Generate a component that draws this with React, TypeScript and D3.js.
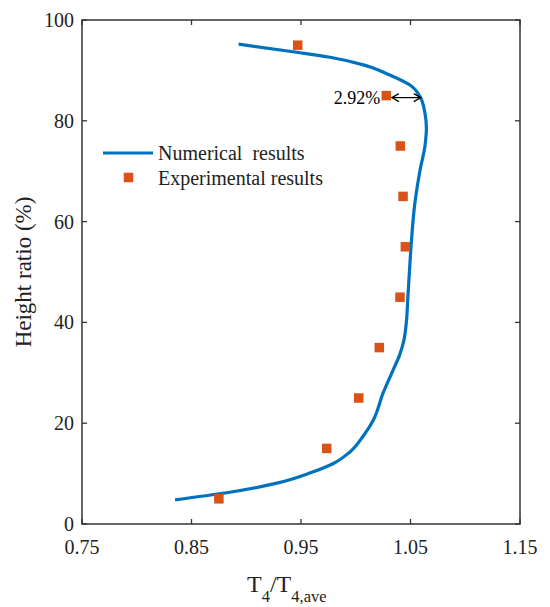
import * as d3 from 'd3'

// numerical curve: [T4/T4,ave, height ratio %] bottom to top
const numericalX = [0.835, 0.882, 0.928, 0.958, 0.9795, 0.9947, 1.007, 1.016, 1.025, 1.034, 1.04, 1.044, 1.0462, 1.0476, 1.049, 1.0508, 1.054, 1.0587, 1.0632, 1.0645, 1.0632, 1.0587, 1.0495, 1.031, 1.007, 0.9765, 0.946, 0.893]
const numericalY = [4.8, 6.2, 8.1, 10.1, 12.0, 14.3, 17.5, 20.6, 26, 30.5, 33.5, 36.5, 40, 45, 50, 56, 63.7, 70.2, 75, 78.5, 81.5, 84.8, 87.1, 89.1, 91.1, 92.6, 93.6, 95.2]

const expHeights = [5, 15, 25, 35, 45, 55, 65, 75, 85, 95]
const expValues = [0.875, 0.9735, 1.0027, 1.0215, 1.0404, 1.0453, 1.0432, 1.0407, 1.0279, 0.947]

const xTicks = [0.75, 0.85, 0.95, 1.05, 1.15]
const yTicks = [0, 20, 40, 60, 80, 100]

// annotation arrow between marker and curve
const arrowFrom = 1.033
const arrowTo = 1.0594
const arrowHeight = 84.6
const arrowLabel = '2.92%'

const FONT = '"Liberation Serif", "Times New Roman", serif'
const BLUE = '#0072BD'
const ORANGE = '#D95319'
const AXIS = '#333333'

export default function App() {
  const width = 550
  const height = 607
  const margin = { top: 20, right: 30, bottom: 83, left: 82 }
  const w = width - margin.left - margin.right
  const h = height - margin.top - margin.bottom

  const x = d3.scaleLinear().domain([0.75, 1.15]).range([0, w])
  const y = d3.scaleLinear().domain([0, 100]).range([h, 0])

  const pts = numericalX.map((v, i) => ({ t: v, hr: numericalY[i] }))
  // x is a function of height here, so interpolate monotone along y
  const line = d3
    .line<{ t: number; hr: number }>()
    .x((d) => x(d.t))
    .y((d) => y(d.hr))
    .curve(d3.curveMonotoneY)

  const tickLen = 5
  const ms = 9.5

  const ax1 = x(arrowFrom)
  const ax2 = x(arrowTo)
  const ay = y(arrowHeight)
  const head = 5

  return (
    <svg
      width={width}
      height={height}
      style={{ position: 'absolute', left: 0, top: 0, background: '#fff' }}
      fontFamily={FONT}
    >
      <g transform={`translate(${margin.left},${margin.top})`}>
        {/* curve */}
        <path d={line(pts) || ''} fill="none" stroke={BLUE} strokeWidth={3.2} strokeLinejoin="round" />

        {/* experimental markers */}
        {expHeights.map((hr, i) => (
          <rect
            key={hr}
            x={x(expValues[i]) - ms / 2}
            y={y(hr) - ms / 2}
            width={ms}
            height={ms}
            fill={ORANGE}
          />
        ))}

        {/* annotation */}
        <g stroke="#000" strokeWidth={1.2} fill="none">
          <line x1={ax1} x2={ax2} y1={ay} y2={ay} />
          <path d={`M${ax1 + head * 1.4},${ay - head * 0.8} L${ax1},${ay} L${ax1 + head * 1.4},${ay + head * 0.8}`} />
          <path d={`M${ax2 - head * 1.4},${ay - head * 0.8} L${ax2},${ay} L${ax2 - head * 1.4},${ay + head * 0.8}`} />
        </g>
        <text x={x(expValues[8]) - 6} y={ay + 6.5} textAnchor="end" fontSize={18} fill="#000">
          {arrowLabel}
        </text>

        {/* box */}
        <rect x={0} y={0} width={w} height={h} fill="none" stroke={AXIS} strokeWidth={1.5} />

        {/* ticks */}
        {xTicks.map((t) => (
          <g key={`x${t}`}>
            <line x1={x(t)} x2={x(t)} y1={h} y2={h - tickLen} stroke={AXIS} strokeWidth={1.3} />
            <line x1={x(t)} x2={x(t)} y1={0} y2={tickLen} stroke={AXIS} strokeWidth={1.3} />
            <text x={x(t)} y={h + 30} textAnchor="middle" fontSize={20} fill="#222">
              {t.toFixed(2)}
            </text>
          </g>
        ))}
        {yTicks.map((t) => (
          <g key={`y${t}`}>
            <line x1={0} x2={tickLen} y1={y(t)} y2={y(t)} stroke={AXIS} strokeWidth={1.3} />
            <line x1={w} x2={w - tickLen} y1={y(t)} y2={y(t)} stroke={AXIS} strokeWidth={1.3} />
            <text x={-8} y={y(t)} dy="0.35em" textAnchor="end" fontSize={20} fill="#222">
              {t}
            </text>
          </g>
        ))}

        {/* axis labels */}
        <text x={x(0.95) - 54} y={h + 68} fontSize={24} fill="#222">
          T
          <tspan fontSize={16.5} dy={10}>4</tspan>
          <tspan dy={-10}>/T</tspan>
          <tspan fontSize={16.5} dy={10}>4,ave</tspan>
        </text>
        <text
          transform={`translate(${-51},${h / 2}) rotate(-90)`}
          textAnchor="middle"
          fontSize={23}
          fill="#222"
        >
          Height ratio (%)
        </text>

        {/* legend */}
        <g transform="translate(21,133)">
          <line x1={0} x2={50} y1={0} y2={0} stroke={BLUE} strokeWidth={3.2} />
          <text x={55} y={7} fontSize={20} fill="#222" style={{ whiteSpace: 'pre' }}>
            Numerical  results
          </text>
          <rect x={25.5 - ms / 2} y={24.5 - ms / 2} width={ms} height={ms} fill={ORANGE} />
          <text x={55} y={31.5} fontSize={20} fill="#222">
            Experimental results
          </text>
        </g>
      </g>
    </svg>
  )
}
